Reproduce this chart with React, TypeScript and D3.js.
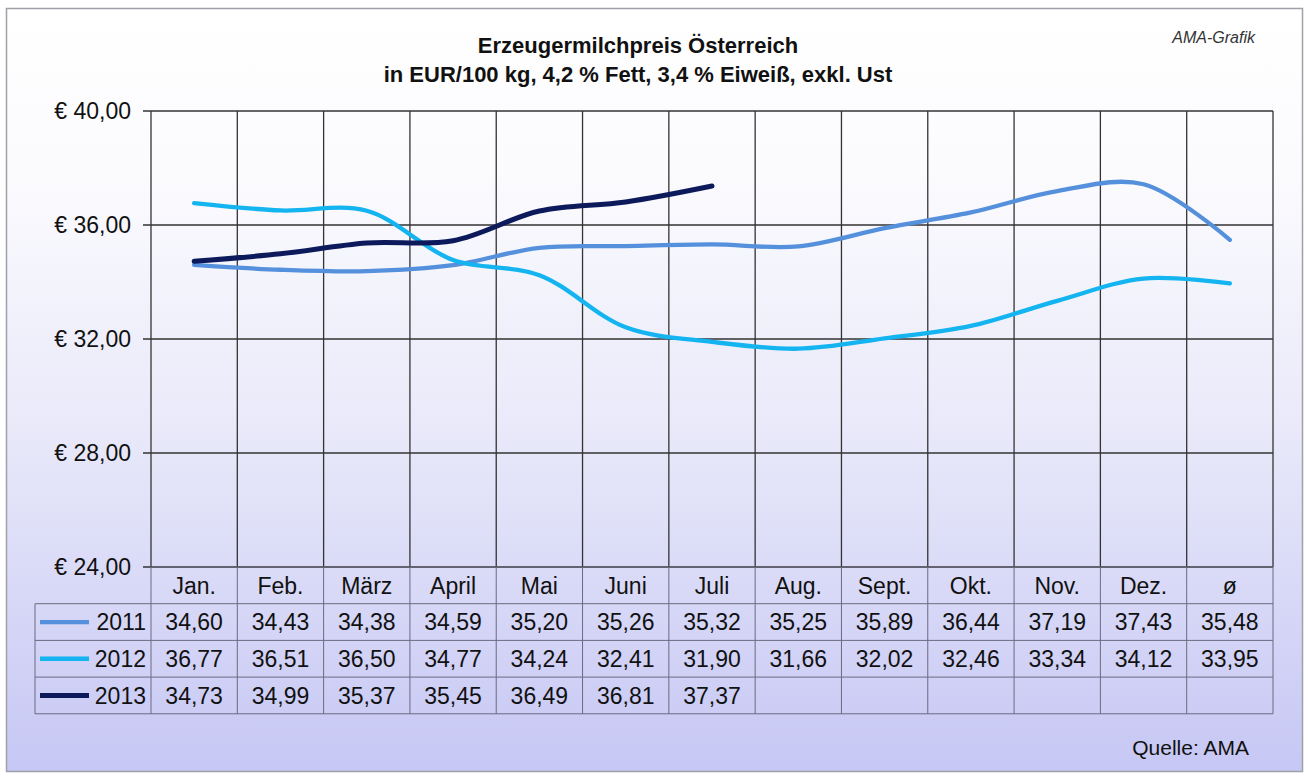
import React from "react";
import * as d3 from "d3";

const categories = ["Jan.", "Feb.", "März", "April", "Mai", "Juni", "Juli", "Aug.", "Sept.", "Okt.", "Nov.", "Dez.", "ø"];
const series2011 = [34.60, 34.43, 34.38, 34.59, 35.20, 35.26, 35.32, 35.25, 35.89, 36.44, 37.19, 37.43, 35.48];
const series2012 = [36.77, 36.51, 36.50, 34.77, 34.24, 32.41, 31.90, 31.66, 32.02, 32.46, 33.34, 34.12, 33.95];
const series2013 = [34.73, 34.99, 35.37, 35.45, 36.49, 36.81, 37.37];
const yTicks = [24, 28, 32, 36, 40];

const seriesList = [
  { name: "2011", values: series2011, color: "#5590dc", width: 4.3 },
  { name: "2012", values: series2012, color: "#14b4f0", width: 4.3 },
  { name: "2013", values: series2013, color: "#0c1a5c", width: 5 },
];

const W = 1308, H = 778;
const left = 151, right = 1273, top = 111, bottom = 567;
const rowH = 36.7;
const legendLeft = 35;
const FONT = "'Liberation Sans', Arial, sans-serif";
const FS = 23;

const fmt = (v: number) => v.toFixed(2).replace(".", ",");

export default function App() {
  const x = d3.scaleBand<string>().domain(categories).range([left, right]).padding(0);
  const y = d3.scaleLinear().domain([24, 40]).range([bottom, top]);
  const cx = (i: number) => (x(categories[i]) as number) + x.bandwidth() / 2;
  const line = d3
    .line<number>()
    .x((_, i) => cx(i))
    .y((d) => y(d))
    .curve(d3.curveCatmullRom.alpha(0.5));

  const headerTop = bottom;
  const rowsTop = headerTop + rowH;
  const tableBottom = rowsTop + rowH * seriesList.length;

  return (
    <svg width={W} height={H} style={{ display: "block", position: "absolute", left: 0, top: 0 }}>
      <defs>
        <linearGradient id="bg" x1="0" y1="0" x2="0" y2="1">
          <stop offset="0" stopColor="#ffffff" />
          <stop offset="0.22" stopColor="#fbfbfe" />
          <stop offset="0.55" stopColor="#e9e9fa" />
          <stop offset="1" stopColor="#c6c7f4" />
        </linearGradient>
      </defs>
      <rect x={0} y={0} width={W} height={H} fill="#ffffff" />
      <rect x={6.5} y={8.5} width={1296} height={763} fill="url(#bg)" stroke="#a0a0a8" strokeWidth={1.5} />

      {/* titles */}
      <text x={638} y={53} textAnchor="middle" fontFamily={FONT} fontWeight="bold" fontSize={22} fill="#111">
        Erzeugermilchpreis Österreich
      </text>
      <text x={638} y={82} textAnchor="middle" fontFamily={FONT} fontWeight="bold" fontSize={22} fill="#111">
        in EUR/100 kg, 4,2 % Fett, 3,4 % Eiweiß, exkl. Ust
      </text>
      <text x={1255} y={43} textAnchor="end" fontFamily={FONT} fontStyle="italic" fontSize={16} fill="#333">
        AMA-Grafik
      </text>

      {/* horizontal grid + y axis labels */}
      {yTicks.map((t) => (
        <g key={t}>
          <line x1={143} x2={right} y1={y(t)} y2={y(t)} stroke="#333" strokeWidth={1.3} />
          <text x={131} y={y(t)} dy="0.35em" textAnchor="end" fontFamily={FONT} fontSize={FS} fill="#111">
            {"€ " + fmt(t)}
          </text>
        </g>
      ))}

      {/* vertical grid in plot */}
      {categories.map((c) => (
        <line key={c} x1={x(c) as number} x2={x(c) as number} y1={top} y2={bottom} stroke="#333" strokeWidth={1.3} />
      ))}
      <line x1={right} x2={right} y1={top} y2={bottom} stroke="#333" strokeWidth={1.3} />

      {/* data table */}
      <g stroke="#6a6a80" strokeWidth={1}>
        <line x1={left} x2={right} y1={headerTop} y2={headerTop} />
        {seriesList.map((s, r) => (
          <line key={s.name} x1={legendLeft} x2={right} y1={rowsTop + rowH * r} y2={rowsTop + rowH * r} />
        ))}
        <line x1={legendLeft} x2={right} y1={tableBottom} y2={tableBottom} />
        <line x1={legendLeft} x2={legendLeft} y1={rowsTop} y2={tableBottom} />
        {categories.map((c) => (
          <line key={c} x1={x(c) as number} x2={x(c) as number} y1={headerTop} y2={tableBottom} />
        ))}
        <line x1={right} x2={right} y1={headerTop} y2={tableBottom} />
      </g>
      {categories.map((c, i) => (
        <text key={c} x={cx(i)} y={headerTop + rowH / 2} dy="0.36em" textAnchor="middle" fontFamily={FONT} fontSize={FS} fill="#111">
          {c}
        </text>
      ))}
      {seriesList.map((s, r) => {
        const ry = rowsTop + rowH * r + rowH / 2;
        return (
          <g key={s.name}>
            <line x1={40} x2={89} y1={ry} y2={ry} stroke={s.color} strokeWidth={s.width} />
            <text x={146} y={ry} dy="0.36em" textAnchor="end" fontFamily={FONT} fontSize={FS} fill="#111">
              {s.name}
            </text>
            {s.values.map((v, i) => (
              <text key={i} x={cx(i)} y={ry} dy="0.36em" textAnchor="middle" fontFamily={FONT} fontSize={FS} fill="#111">
                {fmt(v)}
              </text>
            ))}
          </g>
        );
      })}

      {/* lines */}
      {seriesList.map((s) => (
        <path key={s.name} d={line(s.values) || ""} fill="none" stroke={s.color} strokeWidth={s.width} strokeLinecap="round" strokeLinejoin="round" />
      ))}

      <text x={1249} y={755} textAnchor="end" fontFamily={FONT} fontSize={21} fill="#111">
        Quelle: AMA
      </text>
    </svg>
  );
}
